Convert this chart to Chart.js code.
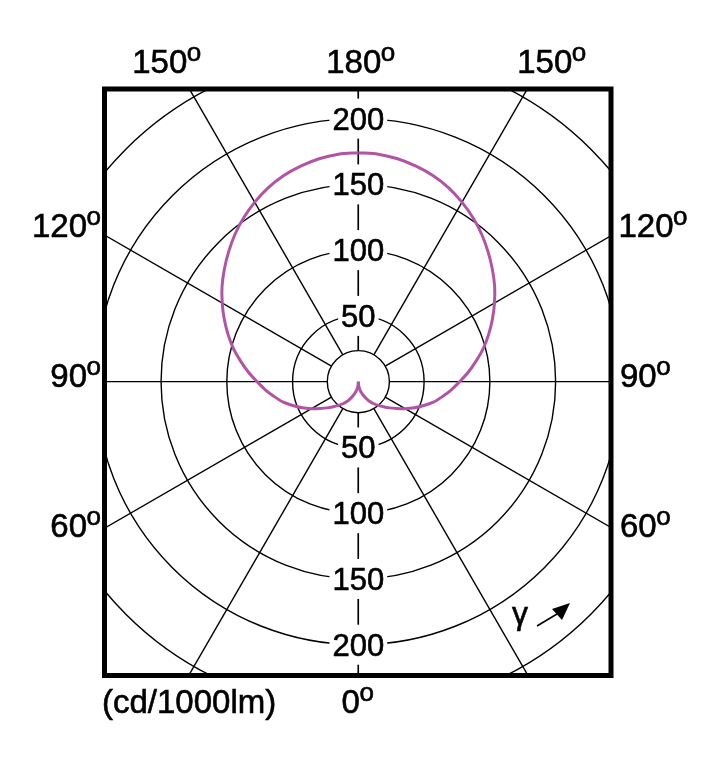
<!DOCTYPE html>
<html>
<head>
<meta charset="utf-8">
<style>
  html, body { margin: 0; padding: 0; background: #fff; }
  canvas { display: block; }
</style>
<script src="https://cdn.jsdelivr.net/npm/chart.js@4.4.0/dist/chart.umd.min.js"></script>
</head>
<body>
<canvas id="polarChart" width="709" height="757"></canvas>
<script>
// gamma angles (deg) and luminous intensity (cd/1000lm), C0-C180 plane
var gammaAngles = [0, 5, 10, 15, 20, 25, 30, 35, 40, 45, 50, 55, 60, 65, 70, 75, 80, 85, 90,
                   95, 100, 105, 110, 115, 120, 125, 130, 135, 140, 145, 150, 155, 160, 165, 170, 175, 180];
var intensity = [0, 2.8, 5.6, 8.3, 11, 14, 17.5, 20.5, 23.5, 27, 31, 35.5, 41, 47, 53, 59.5, 65, 71, 77,
                 84, 91, 98.5, 105.5, 112.5, 119.5, 126.5, 133, 139.5, 146, 152, 157.5, 162.5, 166.5, 169.5, 172, 173.5, 174];

// polar grid
var ringValues = [50, 100, 150, 200, 250];
var ringLabels = ['50', '100', '150', '200'];
var spokeAngles = [0, 30, 60, 90, 120, 150, 180];
var holeValue = 23.6;

var FONT = '"Liberation Sans", Arial, sans-serif';
var CURVE = 'rgb(178, 84, 166)';

function toXY(side) {
    return gammaAngles.map(function (g, i) {
        var rad = g * Math.PI / 180;
        return { x: side * intensity[i] * Math.sin(rad), y: -intensity[i] * Math.cos(rad) };
    });
}

// slightly heavier text, like the scanned original
function heavyText(ctx, t, x, y) {
    ctx.fillText(t, x, y);
    ctx.lineWidth = 0.6;
    ctx.strokeText(t, x, y);
}

var polarGrid = {
    id: 'polarGrid',
    beforeDatasetsDraw: function (chart) {
        var ctx = chart.ctx, a = chart.chartArea;
        var xs = chart.scales.x, ys = chart.scales.y;
        var cx = xs.getPixelForValue(0), cy = ys.getPixelForValue(0);
        var px = function (v) { return xs.getPixelForValue(v) - cx; };

        ctx.save();
        ctx.beginPath();
        ctx.rect(a.left, a.top, a.right - a.left, a.bottom - a.top);
        ctx.clip();
        ctx.strokeStyle = '#000';
        ctx.lineWidth = 1.4;

        ringValues.concat([holeValue]).forEach(function (v) {
            ctx.beginPath();
            ctx.arc(cx, cy, px(v), 0, Math.PI * 2);
            ctx.stroke();
        });

        var r0 = px(holeValue), r1 = px(600);
        spokeAngles.forEach(function (g) {
            var rad = g * Math.PI / 180;
            [-1, 1].forEach(function (side) {
                var dx = side * Math.sin(rad), dy = Math.cos(rad);
                ctx.beginPath();
                ctx.moveTo(cx + dx * r0, cy + dy * r0);
                ctx.lineTo(cx + dx * r1, cy + dy * r1);
                ctx.stroke();
            });
        });

        ctx.font = '31px ' + FONT;
        ctx.textAlign = 'center';
        ctx.textBaseline = 'alphabetic';
        ringLabels.forEach(function (t) {
            var v = Number(t);
            var w = ctx.measureText(t).width;
            [-1, 1].forEach(function (s) {
                var yy = cy + s * px(v);
                ctx.fillStyle = '#fff';
                ctx.fillRect(cx - w / 2 - 3, yy - 20, w + 6, 40);
                ctx.fillStyle = '#000';
                heavyText(ctx, t, cx, yy + 11);
            });
        });
        ctx.restore();
    },
    afterDatasetsDraw: function (chart) {
        var ctx = chart.ctx, a = chart.chartArea;
        ctx.save();
        ctx.strokeStyle = '#000';
        ctx.lineWidth = 5;
        ctx.strokeRect(a.left, a.top, a.right - a.left, a.bottom - a.top);

        // angle labels with superscript "o"
        function degLabel(t, x, y, align) {
            ctx.font = '33px ' + FONT;
            var w1 = ctx.measureText(t).width;
            ctx.font = '26px ' + FONT;
            var w2 = ctx.measureText('o').width;
            var left = align === 'right' ? x - w1 - w2 : align === 'center' ? x - (w1 + w2) / 2 : x;
            ctx.fillStyle = '#000';
            ctx.textAlign = 'left';
            ctx.textBaseline = 'alphabetic';
            ctx.font = '33px ' + FONT;
            heavyText(ctx, t, left, y);
            ctx.font = '26px ' + FONT;
            heavyText(ctx, 'o', left + w1 - 0.5, y - 12);
        }
        degLabel('150', 167, 73.3, 'center');
        degLabel('180', 361, 73.3, 'center');
        degLabel('150', 552, 73.3, 'center');
        degLabel('120', 101.5, 236.7, 'right');
        degLabel('90', 101.5, 386.7, 'right');
        degLabel('60', 101.5, 537, 'right');
        degLabel('120', 618.5, 236.7, 'left');
        degLabel('90', 620, 386.7, 'left');
        degLabel('60', 620, 537, 'left');
        degLabel('0', 358, 713, 'center');

        ctx.font = '33px ' + FONT;
        ctx.textAlign = 'left';
        heavyText(ctx, '(cd/1000lm)', 102, 713);

        // gamma direction marker
        ctx.font = '32px ' + FONT;
        heavyText(ctx, '\u03b3', 512, 624);
        ctx.lineWidth = 1.5;
        ctx.beginPath();
        ctx.moveTo(537, 626);
        ctx.lineTo(557, 614);
        ctx.stroke();
        ctx.beginPath();
        ctx.moveTo(552, 609);
        ctx.lineTo(570, 603);
        ctx.lineTo(562, 620);
        ctx.closePath();
        ctx.fill();
        ctx.restore();
    }
};

var ctx = document.getElementById('polarChart').getContext('2d');
var myChart = new Chart(ctx, {
    type: 'scatter',
    data: {
        datasets: [{
            data: toXY(1),
            showLine: true,
            borderColor: CURVE,
            borderWidth: 3,
            pointRadius: 0,
            tension: 0.3,
            fill: false
        }, {
            data: toXY(-1),
            showLine: true,
            borderColor: CURVE,
            borderWidth: 3,
            pointRadius: 0,
            tension: 0.3,
            fill: false
        }]
    },
    options: {
        responsive: false,
        animation: false,
        devicePixelRatio: 1,
        layout: { padding: { left: 104.5, right: 98, top: 89, bottom: 81.5 } },
        scales: {
            x: { type: 'linear', display: false, min: -193, max: 192.1 },
            y: { type: 'linear', display: false, min: -223.3, max: 222.4 }
        },
        plugins: { legend: { display: false }, tooltip: { enabled: false } }
    },
    plugins: [polarGrid]
});
</script>
</body>
</html>
